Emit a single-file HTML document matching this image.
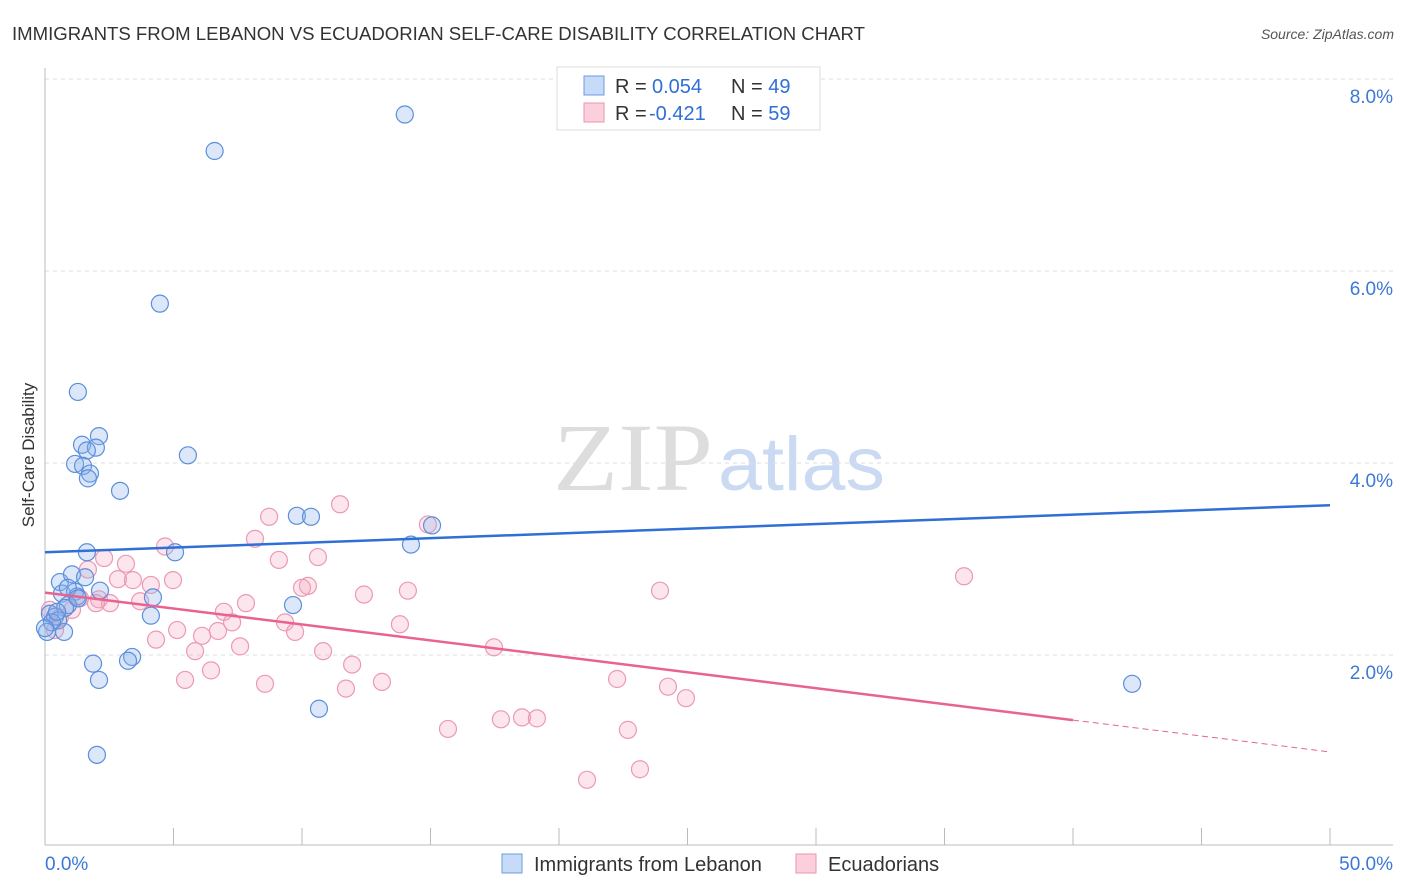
<!DOCTYPE html>
<html><head><meta charset="utf-8"><style>
body{margin:0;background:#fff;font-family:"Liberation Sans",sans-serif;}
svg{display:block}
</style></head><body>
<svg id="chart" width="1406" height="892">
<text x="12" y="40" font-size="18" fill="#333" textLength="853" lengthAdjust="spacingAndGlyphs">IMMIGRANTS FROM LEBANON VS ECUADORIAN SELF-CARE DISABILITY CORRELATION CHART</text>
<text x="1394" y="39" font-size="14" fill="#555" font-style="italic" text-anchor="end">Source: ZipAtlas.com</text>
<g><text x="553" y="490" font-size="96" font-family="Liberation Serif,serif" fill="#ddd" textLength="160" lengthAdjust="spacingAndGlyphs">ZIP</text><text x="718" y="490" font-size="76" fill="#c9daf2" textLength="167" lengthAdjust="spacingAndGlyphs">atlas</text></g>
<text transform="translate(34,455) rotate(-90)" font-size="17" fill="#333" text-anchor="middle">Self-Care Disability</text>
<g id="grid"></g><g id="pts"></g><g id="lines"></g>
<g>
<rect x="557" y="67" width="263" height="63" fill="#fff" stroke="#ddd"/>
<rect x="584" y="76" width="20" height="19" fill="#c6dbf7" stroke="#6a9be0"/>
<rect x="584" y="103" width="20" height="19" fill="#fbd0dc" stroke="#eb93ae"/>
<text x="615" y="93" font-size="20" fill="#333">R = <tspan x="652" fill="#2f6fd6">0.054</tspan><tspan x="731">N = </tspan><tspan fill="#2f6fd6">49</tspan></text>
<text x="615" y="120" font-size="20" fill="#333">R = <tspan x="649" fill="#2f6fd6">-0.421</tspan><tspan x="731">N = </tspan><tspan fill="#2f6fd6">59</tspan></text>
</g>
<g>
<rect x="502" y="854" width="20" height="19" fill="#c6dbf7" stroke="#6a9be0"/>
<text x="534" y="871" font-size="20" fill="#333">Immigrants from Lebanon</text>
<rect x="796" y="854" width="20" height="19" fill="#fbd0dc" stroke="#eb93ae"/>
<text x="828" y="871" font-size="20" fill="#333">Ecuadorians</text>
</g>
</svg>
<script>
const blueX=[14.0,6.6,4.47,1.28,2.1,1.44,1.98,1.63,1.17,1.48,1.75,1.67,5.56,2.92,9.8,10.35,15.06,14.24,1.63,5.06,0.58,1.05,1.56,2.14,0.66,1.17,1.25,4.2,0.89,0.78,9.65,0.19,0.39,0.51,0.27,4.12,0.74,0.08,1.87,3.39,3.23,2.1,10.66,2.02,42.3,0,0.89,1.28,0.47];
const blueY=[7.63,7.25,5.66,4.74,4.28,4.19,4.16,4.13,3.99,3.97,3.89,3.84,4.08,3.71,3.45,3.44,3.35,3.15,3.07,3.07,2.76,2.84,2.81,2.67,2.64,2.66,2.61,2.6,2.52,2.49,2.52,2.43,2.4,2.36,2.34,2.41,2.24,2.24,1.91,1.98,1.94,1.74,1.44,0.96,1.7,2.28,2.7,2.59,2.45];
const pinkX=[11.48,8.72,14.9,8.17,4.67,2.3,10.62,9.1,3.15,2.84,3.42,4.98,4.12,10.23,10.0,35.76,1.67,14.12,12.41,23.93,2.1,2.53,3.7,7.82,1.98,1.05,6.96,7.28,9.34,6.73,13.81,5.14,6.11,4.32,9.73,7.59,5.84,17.47,10.82,11.95,6.46,5.45,8.56,13.11,11.71,22.26,24.24,24.94,15.68,17.74,18.56,19.14,22.68,21.09,23.15,0.19,0.58,1.36,0.39];
const pinkY=[3.57,3.44,3.36,3.21,3.13,3.01,3.02,2.99,2.95,2.79,2.78,2.78,2.73,2.72,2.7,2.82,2.89,2.67,2.63,2.67,2.58,2.54,2.56,2.54,2.54,2.47,2.45,2.34,2.34,2.25,2.32,2.26,2.2,2.16,2.24,2.09,2.04,2.08,2.04,1.9,1.84,1.74,1.7,1.72,1.65,1.75,1.67,1.55,1.23,1.33,1.35,1.34,1.22,0.7,0.81,2.47,2.39,2.59,2.26];
const blueTrend=[3.07,3.56];
const pinkTrend=[2.65,0.99];
const pinkSolidEnd=40;
const yTicks=[2,4,6,8];
const xTicks=[0,5,10,15,20,25,30,35,40,45,50];
const NS='http://www.w3.org/2000/svg';
const sx=v=>45+v*25.7, sy=v=>847-v*96;
function mk(tag,attrs,parent){const e=document.createElementNS(NS,tag);for(const k in attrs)e.setAttribute(k,attrs[k]);parent.appendChild(e);return e;}
const grid=document.getElementById('grid');
yTicks.forEach(t=>{
 const l=mk('line',{x1:45,x2:1393,y1:sy(t),y2:sy(t),stroke:'#ddd','stroke-dasharray':'4,4'},grid);
 
 
 const tx=mk('text',{x:1393,y:sy(t)+24,'font-size':19,fill:'#3b78d8','text-anchor':'end'},grid);
 tx.textContent=t.toFixed(1)+'%';
 
 
});
mk('line',{x1:45,x2:45,y1:68,y2:845,stroke:'#bbb'},grid);
mk('line',{x1:45,x2:1393,y1:845,y2:845,stroke:'#bbb'},grid);
xTicks.forEach(t=>{const l=mk('line',{x1:sx(t),x2:sx(t),y1:828,y2:845,stroke:'#bbb'},grid);
 
 });
const xl0=mk('text',{x:45,y:870,'font-size':19,fill:'#3b78d8'},grid);xl0.textContent='0.0%';


const xl1=mk('text',{x:1393,y:870,'font-size':19,fill:'#3b78d8','text-anchor':'end'},grid);xl1.textContent='50.0%';


const pts=document.getElementById('pts');
pinkX.forEach((x,i)=>{const c=mk('circle',{cx:sx(x),cy:sy(pinkY[i]),r:8.5,fill:'rgba(244,160,188,0.28)',stroke:'#eb9ab3','stroke-width':1.2},pts);
 
 });
blueX.forEach((x,i)=>{const c=mk('circle',{cx:sx(x),cy:sy(blueY[i]),r:8.5,fill:'rgba(140,180,235,0.3)',stroke:'#5b8fdc','stroke-width':1.2},pts);
 
 });
const lines=document.getElementById('lines');
const bl=mk('line',{x1:sx(0),y1:sy(blueTrend[0]),x2:sx(50),y2:sy(blueTrend[1]),stroke:'#2f6fd6','stroke-width':2.5},lines);


const pAt=x=>pinkTrend[0]+(pinkTrend[1]-pinkTrend[0])*x/50;
const pl=mk('line',{x1:sx(0),y1:sy(pAt(0)),x2:sx(pinkSolidEnd),y2:sy(pAt(pinkSolidEnd)),stroke:'#e8638f','stroke-width':2.5},lines);


const pd=mk('line',{x1:sx(pinkSolidEnd),y1:sy(pAt(pinkSolidEnd)),x2:sx(50),y2:sy(pAt(50)),stroke:'#e8638f','stroke-width':1,'stroke-dasharray':'6,4'},lines);


</script>
</body></html>
